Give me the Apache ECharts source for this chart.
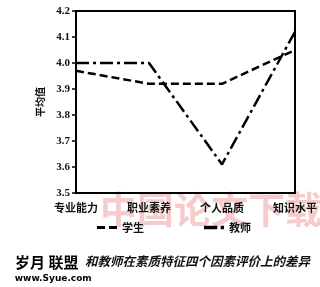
<!DOCTYPE html>
<html><head><meta charset="utf-8">
<script src="https://cdn.jsdelivr.net/npm/echarts@6/dist/echarts.min.js"></script>
<style>html,body{margin:0;padding:0;background:#fff}#c{width:320px;height:287px}</style>
</head><body><div id="c"></div>
<script>
const categories = ['专业能力', '职业素养', '个人品质', '知识水平'];
const studentValues = [3.97, 3.92, 3.92, 4.05];
const teacherValues = [4.00, 4.00, 3.61, 4.12];
const yTicks = [3.5, 3.6, 3.7, 3.8, 3.9, 4.0, 4.1, 4.2];
const seriesNames = ['学生', '教师'];

const chart = echarts.init(document.getElementById('c'));
chart.setOption({
  animation: false,
  backgroundColor: '#fff',
  grid: { left: 76, right: 25, top: 11, bottom: 94, show: true, borderColor: '#000', borderWidth: 2 },
  legend: {
    left: 92, top: 217, itemGap: 60, itemWidth: 20, itemHeight: 4,
    textStyle: { fontFamily: 'Noto Sans CJK SC', fontWeight: 'bold', fontSize: 11, color: '#111' },
    data: [
      { name: seriesNames[0], icon: 'path://M0,0h8v3h-8z M12,0h8v3h-8z' },
      { name: seriesNames[1], icon: 'path://M0,0h12v3h-12z M15,0h3v3h-3z' }
    ]
  },
  xAxis: {
    type: 'category', data: categories, boundaryGap: false,
    axisLine: { lineStyle: { color: '#000', width: 2 } },
    axisTick: { show: false },
    axisLabel: { color: '#111', fontFamily: 'Noto Sans CJK SC', fontWeight: 'bold', fontSize: 11, margin: 9, interval: 0 }
  },
  yAxis: {
    type: 'value', min: yTicks[0], max: yTicks[yTicks.length - 1], interval: 0.1,
    name: '平均值', nameLocation: 'middle', nameGap: 30, nameRotate: 90,
    nameTextStyle: { fontFamily: 'Noto Sans CJK SC', fontWeight: 'bold', fontSize: 10, color: '#111' },
    splitLine: { show: false },
    axisLine: { show: true, lineStyle: { color: '#000', width: 2 } },
    axisTick: { show: true, length: 4, lineStyle: { color: '#000', width: 1.5 } },
    axisLabel: { formatter: v => v.toFixed(1), color: '#111', fontFamily: 'Liberation Serif', fontWeight: 'bold', fontSize: 11, margin: 6 }
  },
  graphic: [
    { type: 'text', left: 100, top: 191, z: -10, style: { text: '中国论文下载', fontSize: 37, fontWeight: 'bold', fontFamily: 'Noto Sans CJK SC', fill: 'rgba(235,140,140,0.45)' } },
    { type: 'text', left: 85, top: 255, style: { text: '和教师在素质特征四个因素评价上的差异', fontSize: 12.5, fontStyle: 'italic', fontWeight: 'bold', fontFamily: 'Noto Sans CJK SC', fill: '#111' } },
    { type: 'text', left: 14, top: 254, style: { text: '岁月 联盟', fontSize: 15, fontWeight: 'bold', fontFamily: 'Noto Sans CJK SC', fill: '#000', stroke: '#fff', lineWidth: 2 } },
    { type: 'text', left: 14, top: 273, style: { text: 'www.Syue.com', fontSize: 9, fontWeight: 'bold', fontFamily: 'DejaVu Sans', fill: '#000', stroke: '#fff', lineWidth: 1.5 } }
  ],
  series: [
    { name: seriesNames[0], type: 'line', data: studentValues, symbol: 'none',
      lineStyle: { color: '#000', width: 2.5, type: [8, 4] }, itemStyle: { color: '#000' } },
    { name: seriesNames[1], type: 'line', data: teacherValues, symbol: 'none',
      lineStyle: { color: '#000', width: 2.5, type: [13, 4, 3, 4] }, itemStyle: { color: '#000' } }
  ]
});
</script></body></html>
